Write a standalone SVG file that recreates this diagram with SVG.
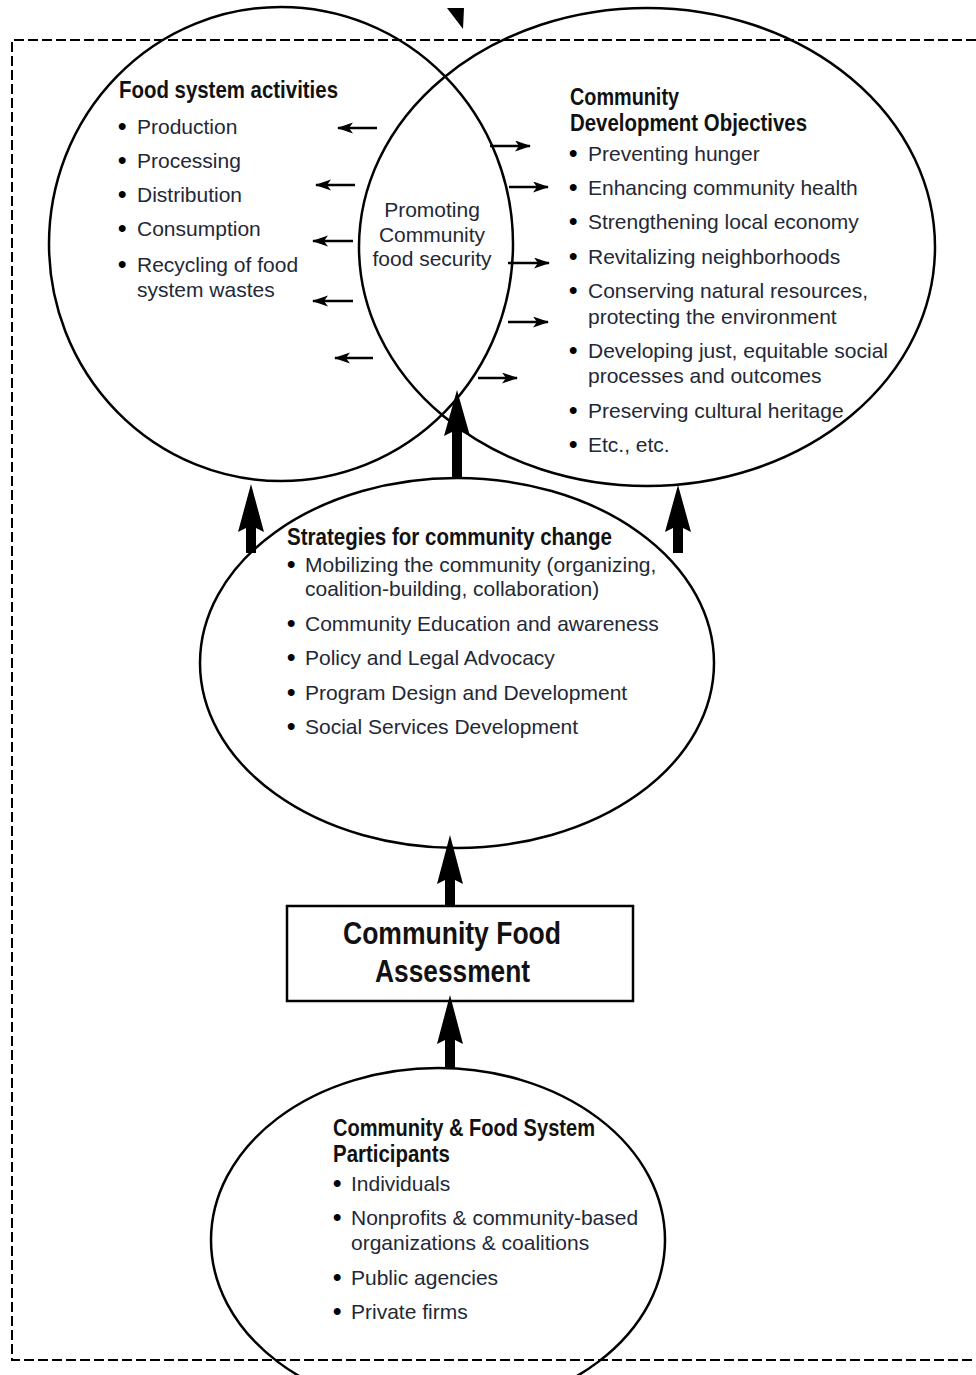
<svg xmlns="http://www.w3.org/2000/svg" width="976" height="1375" viewBox="0 0 976 1375">
<style>
.shape{fill:none;stroke:#000;stroke-width:2.5}
.frame{fill:none;stroke:#000;stroke-width:2;stroke-dasharray:10 4}
.h{font-family:"Liberation Sans",Arial,sans-serif;font-weight:bold;font-size:24px;fill:#111}
.b{font-family:"Liberation Sans",Arial,sans-serif;font-size:21px;fill:#232836}
.d{font-weight:bold;font-size:24px;fill:#000}
.box{font-family:"Liberation Sans",Arial,sans-serif;font-weight:bold;font-size:32px;fill:#111}
.thin{stroke:#000;stroke-width:2.5;fill:none;marker-end:url(#ah)}
.thick{fill:#000}
</style>
<defs>
<marker id="ah" markerUnits="userSpaceOnUse" markerWidth="17" markerHeight="12" refX="15" refY="5.5" orient="auto">
<path d="M0,0 L16,5.5 L0,11 L4,5.5 z" fill="#000"/>
</marker>
</defs>
<rect width="976" height="1375" fill="#fff"/>
<path class="frame" d="M976,40 L12,40 L12,1360 L976,1360"/>
<polygon points="447,8 464,8 463,29" fill="#000"/>

<g id="food-system-activities">
<ellipse class="shape" cx="281" cy="244" rx="232" ry="237"/>
<text class="h" x="119" y="98" textLength="219" lengthAdjust="spacingAndGlyphs">Food system activities</text>
<text class="b" x="118" y="134"><tspan class="d">•</tspan><tspan x="137">Production</tspan></text>
<text class="b" x="118" y="168"><tspan class="d">•</tspan><tspan x="137">Processing</tspan></text>
<text class="b" x="118" y="202"><tspan class="d">•</tspan><tspan x="137">Distribution</tspan></text>
<text class="b" x="118" y="236"><tspan class="d">•</tspan><tspan x="137">Consumption</tspan></text>
<text class="b" x="118" y="272"><tspan class="d">•</tspan><tspan x="137">Recycling of food</tspan></text>
<text class="b" x="137" y="297">system wastes</text>
</g>

<g id="community-development-objectives">
<ellipse class="shape" cx="647" cy="247" rx="288" ry="239"/>
<text class="h" x="570" y="105" textLength="109" lengthAdjust="spacingAndGlyphs">Community</text>
<text class="h" x="570" y="131" textLength="237" lengthAdjust="spacingAndGlyphs">Development Objectives</text>
<text class="b" x="569" y="161"><tspan class="d">•</tspan><tspan x="588">Preventing hunger</tspan></text>
<text class="b" x="569" y="195"><tspan class="d">•</tspan><tspan x="588">Enhancing community health</tspan></text>
<text class="b" x="569" y="229"><tspan class="d">•</tspan><tspan x="588">Strengthening local economy</tspan></text>
<text class="b" x="569" y="264"><tspan class="d">•</tspan><tspan x="588">Revitalizing neighborhoods</tspan></text>
<text class="b" x="569" y="298"><tspan class="d">•</tspan><tspan x="588">Conserving natural resources,</tspan></text>
<text class="b" x="588" y="324">protecting the environment</text>
<text class="b" x="569" y="358"><tspan class="d">•</tspan><tspan x="588">Developing just, equitable social</tspan></text>
<text class="b" x="588" y="383">processes and outcomes</text>
<text class="b" x="569" y="418"><tspan class="d">•</tspan><tspan x="588">Preserving cultural heritage</tspan></text>
<text class="b" x="569" y="452"><tspan class="d">•</tspan><tspan x="588">Etc., etc.</tspan></text>
</g>

<g id="promoting-food-security">
<text class="b" x="432" y="217" text-anchor="middle">Promoting</text>
<text class="b" x="432" y="242" text-anchor="middle">Community</text>
<text class="b" x="432" y="266" text-anchor="middle">food security</text>
</g>

<g id="strategies">
<ellipse class="shape" cx="457" cy="663" rx="257" ry="185"/>
<text class="h" x="287" y="545" textLength="325" lengthAdjust="spacingAndGlyphs">Strategies for community change</text>
<text class="b" x="287" y="572"><tspan class="d">•</tspan><tspan x="305">Mobilizing the community (organizing,</tspan></text>
<text class="b" x="305" y="596">coalition-building, collaboration)</text>
<text class="b" x="287" y="631"><tspan class="d">•</tspan><tspan x="305">Community Education and awareness</tspan></text>
<text class="b" x="287" y="665"><tspan class="d">•</tspan><tspan x="305">Policy and Legal Advocacy</tspan></text>
<text class="b" x="287" y="700"><tspan class="d">•</tspan><tspan x="305">Program Design and Development</tspan></text>
<text class="b" x="287" y="734"><tspan class="d">•</tspan><tspan x="305">Social Services Development</tspan></text>
</g>

<g id="community-food-assessment">
<rect class="shape" x="287" y="906" width="346" height="95"/>
<text class="box" x="343" y="944" textLength="218" lengthAdjust="spacingAndGlyphs">Community Food</text>
<text class="box" x="375" y="982" textLength="155" lengthAdjust="spacingAndGlyphs">Assessment</text>
</g>

<g id="participants">
<ellipse class="shape" cx="438" cy="1240" rx="227" ry="172"/>
<text class="h" x="333" y="1136" textLength="262" lengthAdjust="spacingAndGlyphs">Community &amp; Food System</text>
<text class="h" x="333" y="1162" textLength="117" lengthAdjust="spacingAndGlyphs">Participants</text>
<text class="b" x="333" y="1191"><tspan class="d">•</tspan><tspan x="351">Individuals</tspan></text>
<text class="b" x="333" y="1225"><tspan class="d">•</tspan><tspan x="351">Nonprofits &amp; community-based</tspan></text>
<text class="b" x="351" y="1250">organizations &amp; coalitions</text>
<text class="b" x="333" y="1285"><tspan class="d">•</tspan><tspan x="351">Public agencies</tspan></text>
<text class="b" x="333" y="1319"><tspan class="d">•</tspan><tspan x="351">Private firms</tspan></text>
</g>

<g id="connectors">
<line class="thin" x1="377" y1="128" x2="338" y2="128"/>
<line class="thin" x1="355" y1="185" x2="316" y2="185"/>
<line class="thin" x1="353" y1="241" x2="313" y2="241"/>
<line class="thin" x1="353" y1="301" x2="313" y2="301"/>
<line class="thin" x1="373" y1="358" x2="335" y2="358"/>
<line class="thin" x1="490" y1="146" x2="530" y2="146"/>
<line class="thin" x1="509" y1="187" x2="548" y2="187"/>
<line class="thin" x1="508" y1="263" x2="549" y2="263"/>
<line class="thin" x1="508" y1="322" x2="548" y2="322"/>
<line class="thin" x1="478" y1="378" x2="517" y2="378"/>
<polygon class="thick" points="457,390 470,436 462,432 462,477 452,477 452,432 444,436"/>
<polygon class="thick" points="251,484 264,532 256,528 256,553 246,553 246,528 238,532"/>
<polygon class="thick" points="678,485 691,532 683,528 683,553 673,553 673,528 665,532"/>
<polygon class="thick" points="450,835 463,884 455,880 455,906 445,906 445,880 437,884"/>
<polygon class="thick" points="450,995 463,1044 455,1040 455,1069 445,1069 445,1040 437,1044"/>
</g>
</svg>
